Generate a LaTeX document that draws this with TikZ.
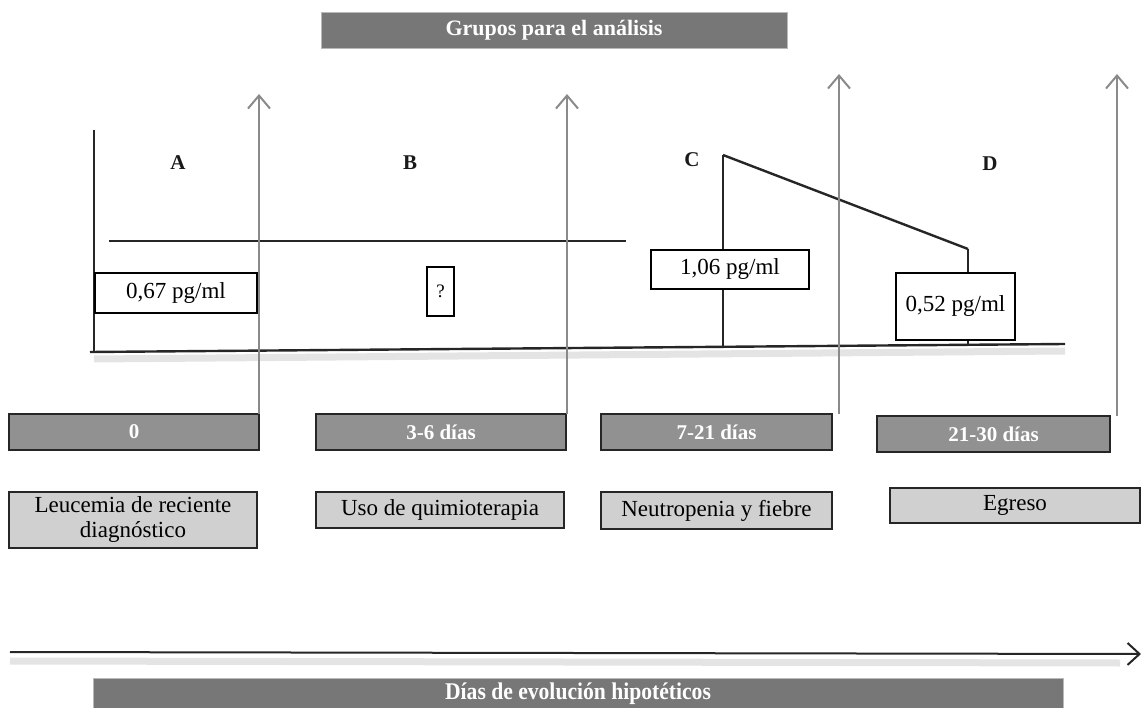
\documentclass[tikz,border=0pt]{standalone}
\usepackage{fontspec}
\usepackage{graphicx}
\setmainfont{Liberation Serif}
\usetikzlibrary{arrows.meta}
\definecolor{titlegray}{HTML}{777777}
\definecolor{bargray}{HTML}{919191}
\definecolor{lightgray2}{HTML}{D0D0D0}
\definecolor{arrowgray}{HTML}{8A8A8A}
\definecolor{edgedark}{HTML}{262626}
\definecolor{shadowgray}{HTML}{E4E4E4}
\tikzset{
  titlebar/.style={fill=titlegray, draw=gray!55, line width=0.8pt, text=white,
    font=\bfseries\fontsize{22}{26}\selectfont, inner sep=0pt},
  valbox/.style={draw=black, line width=2.2pt, fill=white,
    font=\fontsize{23}{26}\selectfont, inner sep=0pt},
  daybar/.style={fill=bargray, draw=edgedark, line width=2pt, text=white,
    font=\bfseries\fontsize{21}{24}\selectfont, inner sep=0pt},
  eventbox/.style={fill=lightgray2, draw=edgedark, line width=2pt,
    font=\fontsize{23}{25}\selectfont, inner sep=0pt, align=center},
  grouplabel/.style={font=\bfseries\fontsize{21}{24}\selectfont, text=black!90},
  axisline/.style={line width=2.4pt, draw=black!85},
  shadowline/.style={line width=7pt, draw=shadowgray},
  garrow/.style={draw=arrowgray, line width=2pt, -{Straight Barb[length=13pt,width=22pt]}},
  timearrow/.style={draw=black!85, line width=2pt, -{Straight Barb[length=12pt,width=22pt]}}
}
\begin{document}
\begin{tikzpicture}[x=1pt,y=-1pt]
\useasboundingbox (0,0) rectangle (1143,708);

% title
\node[titlebar, minimum width=466pt, minimum height=36pt] (title) at (554,30) {Grupos para el análisis};

% coordinates for axes
\coordinate (yTop) at (94,130);
\coordinate (origin) at (94,352);
\coordinate (xEnd) at (1065,344);
\coordinate (hL) at (109,241);
\coordinate (hR) at (626,241);
\coordinate (cTop) at (723,155);
\coordinate (cBot) at (723,347);
\coordinate (dTop) at (968,249);
\coordinate (dBot) at (968,345);

% shadow of baseline
\draw[shadowline] ([yshift=-7pt]origin) -- ([yshift=-7pt]xEnd);

% axes
\draw[axisline] (yTop) -- (origin);
\draw[axisline] ([xshift=-4pt]origin) -- (xEnd);
\draw[axisline] (hL) -- (hR);
\draw[axisline] (cTop) -- (cBot);
\draw[axisline] (cTop) -- (dTop);
\draw[axisline] (dTop) -- (dBot);

% day bars
\node[daybar, minimum width=250pt, minimum height=36pt] (b0) at (134,432) {0};
\node[daybar, minimum width=250pt, minimum height=36pt] (b1) at (441,432) {3-6 días};
\node[daybar, minimum width=231pt, minimum height=36pt] (b2) at (716.5,432) {7-21 días};
\node[daybar, minimum width=233pt, minimum height=36pt] (b3) at (993.5,434) {21-30 días};

% gray arrows
\coordinate (a1s) at (259,414);
\coordinate (a1t) at (259,94);
\coordinate (a2s) at (567,414);
\coordinate (a2t) at (567,94);
\coordinate (a3s) at (839,414);
\coordinate (a3t) at (839,74);
\coordinate (a4s) at (1117,416);
\coordinate (a4t) at (1117,74);
\draw[garrow] (a1s) -- (a1t);
\draw[garrow] (a2s) -- (a2t);
\draw[garrow] (a3s) -- (a3t);
\draw[garrow] (a4s) -- (a4t);

% value boxes
\node[valbox, minimum width=162pt, minimum height=40pt] (v67) at (176,293) {0,67 pg/ml};
\node[valbox, line width=1.8pt, minimum width=27pt, minimum height=49pt, font=\fontsize{19}{22}\selectfont] (q) at (440.5,291.5) {?};
\node[valbox, minimum width=158pt, minimum height=39pt] (v106) at (730,269.5) {1,06 pg/ml};
\node[valbox, minimum width=119pt, minimum height=67pt] (v052) at (955.5,306.5) {0,52 pg/ml};

% group labels
\node[grouplabel] (gA) at (178,163) {A};
\node[grouplabel] (gB) at (410,163) {B};
\node[grouplabel] (gC) at (692,160) {C};
\node[grouplabel] (gD) at (990,164) {D};

% event boxes
\node[eventbox, minimum width=248pt, minimum height=56pt] (l0) at (133,520) {Leucemia de reciente\\diagnóstico};
\node[eventbox, minimum width=248pt, minimum height=36pt] (l1) at (440,510) {Uso de quimioterapia};
\node[eventbox, minimum width=231pt, minimum height=37pt] (l2) at (716.5,510.5) {Neutropenia y fiebre};
\node[eventbox, minimum width=250pt, minimum height=35pt] (l3) at (1015,505.5) {Egreso};

% time arrow
\coordinate (ta0) at (10,652);
\coordinate (ta1) at (1141,654);
\draw[shadowline] ([yshift=-9pt]ta0) -- ([yshift=-9pt]1120,654);
\draw[timearrow] (ta0) -- (ta1);

% bottom bar
\node[titlebar, minimum width=970pt, minimum height=31pt] (bottom) at (578,694) {\scalebox{0.9}[1]{\fontsize{24}{26}\selectfont Días de evolución hipotéticos}};
\end{tikzpicture}
\end{document}
